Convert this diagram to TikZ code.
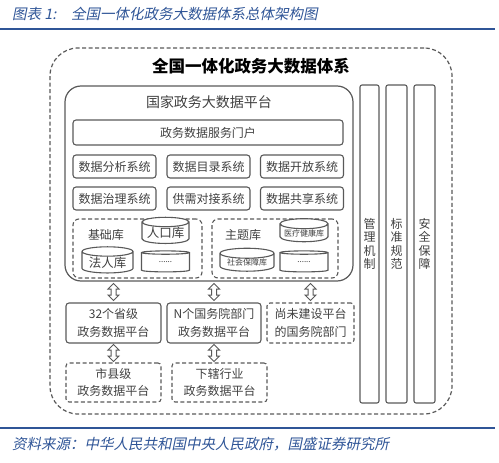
\documentclass[tikz,border=0pt]{standalone}
\usepackage{fontspec}
\setmainfont{Noto Sans CJK SC}
\newfontfamily\captfont[FakeSlant=0.2]{Noto Sans CJK SC}
\usetikzlibrary{shapes.geometric,shapes.arrows}
\definecolor{capblue}{HTML}{2F5597}
\definecolor{boxgray}{HTML}{595959}
\definecolor{txtgray}{HTML}{404040}
\newcommand{\fsz}[1]{\fontsize{#1}{#1}\selectfont}
\tikzset{
  box/.style={draw=boxgray,line width=1.1pt,rounded corners=3pt,inner sep=0pt,text=txtgray,align=center},
  dbox/.style={box,dash pattern=on 4pt off 2.5pt},
  twoline/.style={font=\fontsize{12}{17.5}\selectfont},
  db/.style={cylinder,shape border rotate=90,aspect=0.25,draw=boxgray,line width=1.1pt,fill=white,inner sep=0pt,text=txtgray},
  updown/.style={double arrow,rotate=90,draw=boxgray,line width=1pt,fill=white,minimum height=17pt,minimum width=10pt,inner xsep=0pt,inner ysep=2pt,double arrow head extend=3pt},
  bar/.style={box,rounded corners=2pt,minimum height=318pt,font=\fontsize{12}{13.3}\selectfont}
}
\begin{document}
\begin{tikzpicture}[x=1pt,y=-1pt,font=\fsz{12}]
\useasboundingbox (0,0) rectangle (499,463);
% caption and rules
\node[anchor=west,inner sep=0pt,text=capblue,font=\captfont\fsz{14.5}] (cap) at (12,14) {图表 1:\quad 全国一体化政务大数据体系总体架构图};
\draw[capblue,line width=1.8pt] (0,29)--(495,29);
\draw[capblue,line width=1.8pt] (0,428)--(495,428);
\node[anchor=west,inner sep=0pt,text=capblue,font=\captfont\fsz{14.5}] (src) at (12,444) {资料来源：中华人民共和国中央人民政府，国盛证券研究所};
% whole system
\node[dbox,line width=1.2pt,rounded corners=28pt,minimum width=402pt,minimum height=366pt] (whole) at (251,231) {};
\node[font=\bfseries\fsz{16.5},text=black] (wholetxt) at (251,66) {全国一体化政务大数据体系};
% national platform
\node[box,line width=1.2pt,rounded corners=16pt,minimum width=288pt,minimum height=195pt] (plat) at (209,183.5) {};
\node[font=\fsz{14},text=txtgray] (plattxt) at (209,102) {国家政务大数据平台};
\node[box,minimum width=270pt,minimum height=25pt] (portal) at (208,132.5) {政务数据服务门户};
\node[box,minimum width=83pt,minimum height=23pt] (anal) at (114.5,166.5) {数据分析系统};
\node[box,minimum width=83pt,minimum height=23pt] (cata) at (208.5,166.5) {数据目录系统};
\node[box,minimum width=83pt,minimum height=23pt] (open) at (302,166.5) {数据开放系统};
\node[box,minimum width=83pt,minimum height=23pt] (gov) at (114.5,198.5) {数据治理系统};
\node[box,minimum width=83pt,minimum height=23pt] (match) at (208.5,198.5) {供需对接系统};
\node[box,minimum width=83pt,minimum height=23pt] (share) at (302,198.5) {数据共享系统};
% databases
\node[dbox,rounded corners=6pt,minimum width=129pt,minimum height=59pt] (basegrp) at (137.5,248.5) {};
\node[dbox,rounded corners=6pt,minimum width=126pt,minimum height=59pt] (topicgrp) at (275,248.5) {};
\node[text=txtgray] (basetxt) at (106,235) {基础库};
\node[text=txtgray] (topictxt) at (243,235) {主题库};
\node[db,minimum width=47pt,minimum height=20pt,font=\fsz{12.5}] (pop) at (165.5,233) {人口库};
\node[db,minimum width=51pt,minimum height=21pt,font=\fsz{12.5}] (legal) at (107.5,262.5) {法人库};
\node[db,minimum width=48pt,minimum height=21pt,font=\fsz{8}] (bmore) at (165.5,262.5) {......};
\node[db,minimum width=48pt,minimum height=20pt,font=\fsz{8}] (health) at (304,233) {医疗健康库};
\node[db,minimum width=54pt,minimum height=21pt,font=\fsz{8}] (social) at (247,262.5) {社会保障库};
\node[db,minimum width=48pt,minimum height=21pt,font=\fsz{8}] (tmore) at (304,262.5) {......};
% lower platforms
\node[box,twoline,minimum width=95pt,minimum height=40pt] (prov) at (113.5,323) {32个省级\\政务数据平台};
\node[box,twoline,minimum width=94pt,minimum height=40pt] (dept) at (214,323) {N个国务院部门\\政务数据平台};
\node[dbox,twoline,minimum width=87pt,minimum height=40pt] (nodept) at (310.5,323) {尚未建设平台\\的国务院部门};
\node[dbox,twoline,minimum width=95pt,minimum height=39pt] (city) at (113.5,382.5) {市县级\\政务数据平台};
\node[dbox,twoline,minimum width=95pt,minimum height=39pt] (trade) at (219.5,382.5) {下辖行业\\政务数据平台};
\path (plat.south -| prov) -- node[updown] (ar1) {} (prov.north);
\path (plat.south -| dept) -- node[updown] (ar2) {} (dept.north);
\path (plat.south -| nodept) -- node[updown] (ar3) {} (nodept.north);
\path (prov.south) -- node[updown] (ar4) {} (city.north -| prov);
\path (dept.south) -- node[updown] (ar5) {} (trade.north -| dept);
% side bars
\node[bar,minimum width=19pt] (mgmt) at (369.5,244) {管\\理\\机\\制};
\node[bar,minimum width=21pt] (std) at (396.5,244) {标\\准\\规\\范};
\node[bar,minimum width=21pt] (sec) at (424.5,244) {安\\全\\保\\障};
\end{tikzpicture}
\end{document}
